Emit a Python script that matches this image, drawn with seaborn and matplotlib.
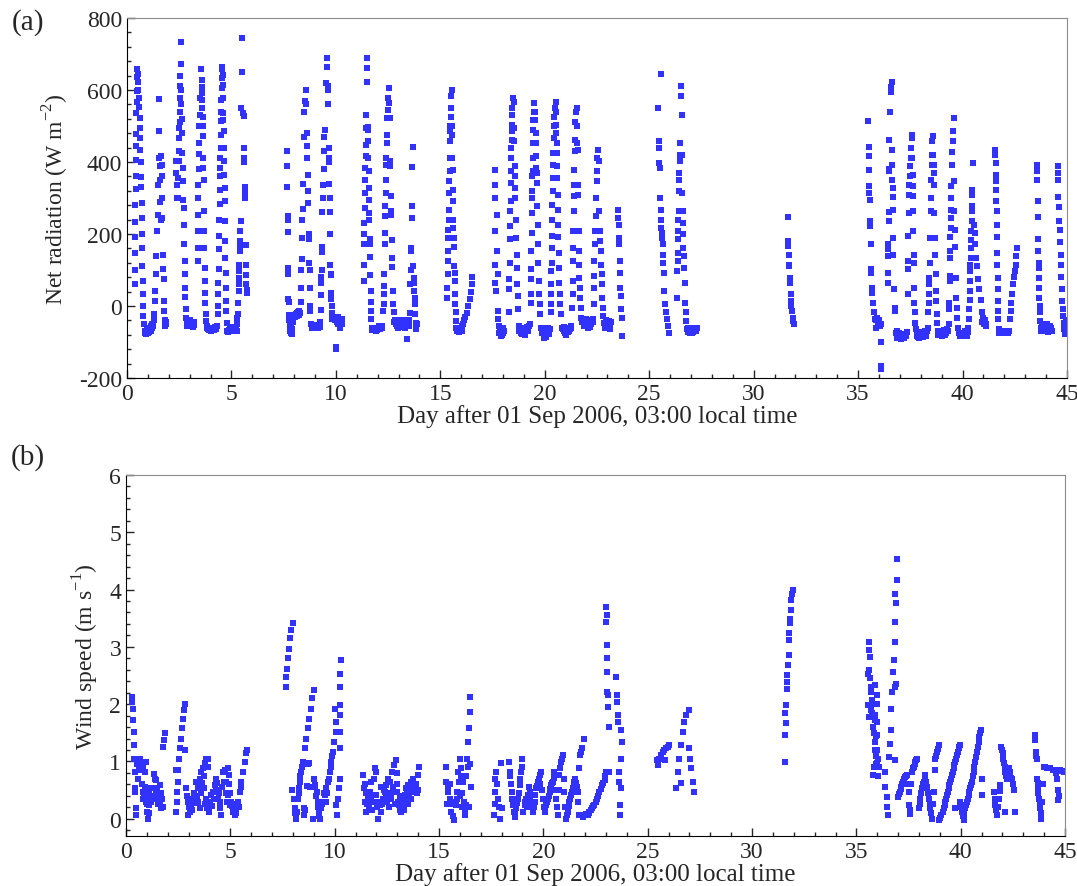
"""
Net radiation and wind speed time series, Sep-Oct 2006
"""
import matplotlib
matplotlib.use("Agg")
import matplotlib.pyplot as plt
from matplotlib.ticker import MultipleLocator
import seaborn as sns
import pandas as pd

# (day after 01 Sep 2006 03:00, net radiation W m-2)
rad_days_00_06 = [
    (0.38, 60), (0.38, 100), (0.39, 148), (0.39, 192), (0.40, 233), (0.40, 280), (0.41, 325), (0.41, 360),
    (0.42, 406), (0.43, 445), (0.43, 477), (0.44, 537), (0.46, 568), (0.46, 598), (0.48, 637), (0.50, 658),
    (0.51, 644), (0.54, 623), (0.55, 600), (0.57, 577), (0.59, 554), (0.60, 522), (0.61, 494), (0.62, 468),
    (0.64, 434), (0.65, 399), (0.67, 359), (0.68, 330), (0.70, 286), (0.71, 245), (0.72, 200), (0.73, 162),
    (0.74, 111), (0.76, 69), (0.77, 34), (0.78, 0), (0.79, -28), (0.80, -51), (0.88, -69), (0.92, -74),
    (0.97, -72), (1.02, -70), (1.07, -66), (1.12, -60), (1.17, -55), (1.22, -50), (1.27, -40), (1.30, -23),
    (1.33, 14), (1.36, 42), (1.38, 88), (1.40, 139), (1.42, 208), (1.48, 254), (1.49, 337), (1.52, 411),
    (1.53, 485), (1.54, 575), (1.56, 390), (1.58, 350), (1.60, 290), (1.62, 240), (1.65, 418), (1.66, 392),
    (1.67, 360), (1.68, 300), (1.69, 245), (1.72, 141), (1.74, 104), (1.75, 76), (1.77, 14), (1.79, -14),
    (1.82, -46), (1.85, -50),
    (2.36, 404), (2.37, 369), (2.38, 337), (2.40, 300), (2.42, 300), (2.45, 355), (2.47, 403), (2.49, 430),
    (2.50, 466), (2.51, 494), (2.52, 512), (2.53, 540), (2.54, 577), (2.55, 610), (2.56, 640), (2.57, 671),
    (2.58, 733), (2.60, 600), (2.61, 560), (2.62, 520), (2.64, 480), (2.65, 425), (2.67, 383), (2.68, 346),
    (2.70, 295), (2.72, 272), (2.73, 226), (2.74, 171), (2.76, 125), (2.77, 88), (2.79, 51), (2.80, 26),
    (2.82, -9), (2.84, -32), (2.86, -46), (2.92, -42), (2.98, -50), (3.05, -55), (3.12, -52), (3.20, -45),
    (3.38, 125), (3.38, 162), (3.39, 208), (3.40, 254), (3.41, 300), (3.42, 337), (3.43, 380), (3.44, 422),
    (3.45, 453), (3.46, 499), (3.48, 531), (3.50, 577), (3.55, 658), (3.57, 628), (3.58, 609), (3.59, 591),
    (3.60, 572), (3.61, 549), (3.62, 526), (3.63, 499), (3.64, 471), (3.65, 411), (3.66, 383), (3.68, 351),
    (3.69, 263), (3.70, 208), (3.71, 162), (3.72, 106), (3.73, 69), (3.74, 37), (3.75, 9), (3.76, -23),
    (3.78, -42), (3.85, -55), (3.92, -60), (4.00, -63), (4.08, -65), (4.15, -62), (4.22, -58), (4.30, -55),
    (4.35, -23), (4.36, 0), (4.37, 32), (4.38, 65), (4.39, 102), (4.40, 157), (4.41, 194), (4.42, 240),
    (4.43, 282), (4.44, 323), (4.45, 360), (4.46, 383), (4.47, 411), (4.48, 439), (4.49, 476), (4.50, 513),
    (4.51, 540), (4.52, 572), (4.53, 605), (4.54, 632), (4.55, 658), (4.56, 665), (4.58, 642), (4.59, 614),
    (4.60, 577), (4.61, 535), (4.62, 517), (4.63, 485), (4.64, 439), (4.65, 402), (4.66, 365), (4.67, 328),
    (4.68, 291), (4.69, 235), (4.70, 180), (4.71, 134), (4.72, 92), (4.74, 51), (4.75, 14), (4.76, -14),
    (4.78, -46), (4.80, -69), (4.88, -66), (4.96, -70), (5.04, -65), (5.12, -62), (5.20, -68),
    (5.25, -69), (5.27, -50), (5.28, -32), (5.30, -23), (5.32, 9), (5.34, 42), (5.35, 60), (5.36, 79),
    (5.37, 97), (5.38, 115), (5.40, 152), (5.41, 166), (5.42, 180), (5.43, 208), (5.44, 235), (5.47, 550),
    (5.49, 650), (5.53, 745), (5.57, 535), (5.58, 528), (5.60, 440), (5.61, 410), (5.62, 400), (5.63, 330),
    (5.64, 315), (5.66, 300), (5.68, 170), (5.69, 115), (5.71, 85), (5.72, 60), (5.74, 45), (5.75, 35),
]
rad_days_07_14 = [
    (7.67, 430), (7.67, 390), (7.68, 330), (7.69, 250), (7.70, 240), (7.70, 205), (7.71, 105), (7.72, 90),
    (7.73, 20), (7.74, 10), (7.76, -25), (7.78, -40), (7.80, -55), (7.82, -70), (7.85, -75), (7.90, -78),
    (7.95, -30), (8.00, -25), (8.05, -25), (8.10, -22), (8.15, -20), (8.20, -18), (8.25, -15),
    (8.30, -20), (8.32, 10), (8.33, 50), (8.35, 100), (8.36, 130), (8.38, 190), (8.40, 240), (8.42, 270),
    (8.44, 340), (8.46, 470), (8.48, 540), (8.50, 570), (8.55, 600), (8.58, 560), (8.60, 480), (8.62, 445),
    (8.63, 410), (8.65, 365), (8.66, 320), (8.68, 285), (8.70, 200), (8.71, 185), (8.72, 120), (8.74, 100),
    (8.76, 50), (8.77, 0), (8.78, -15), (8.82, -50), (8.88, -55), (8.95, -58), (9.02, -60), (9.10, -56),
    (9.18, -52), (9.25, -45),
    (9.27, -10), (9.29, 30), (9.30, 65), (9.31, 80), (9.32, 100), (9.33, 150), (9.34, 165), (9.36, 260),
    (9.38, 300), (9.40, 335), (9.41, 380), (9.43, 430), (9.45, 470), (9.47, 490), (9.52, 620), (9.57, 690),
    (9.58, 665), (9.60, 610), (9.62, 600), (9.63, 560), (9.65, 440), (9.66, 410), (9.67, 400), (9.68, 340),
    (9.70, 300), (9.71, 260), (9.72, 200), (9.74, 115), (9.75, 90), (9.76, 85), (9.78, 35), (9.79, 20),
    (9.80, 0), (9.81, -20), (9.83, -35), (9.88, -30), (9.95, -40), (10.00, -115), (10.01, -120), (10.05, -45),
    (10.12, -50), (10.18, -55), (10.25, -45), (10.30, -50),
    (11.33, 69), (11.34, 115), (11.35, 171), (11.36, 199), (11.37, 231), (11.38, 272), (11.39, 314),
    (11.40, 351), (11.41, 383), (11.42, 416), (11.43, 448), (11.44, 494), (11.45, 531), (11.49, 690),
    (11.50, 662), (11.50, 623), (11.53, 498), (11.54, 489), (11.55, 457), (11.56, 411), (11.57, 374),
    (11.58, 328), (11.59, 295), (11.60, 258), (11.61, 240), (11.62, 185), (11.63, 171), (11.64, 136),
    (11.65, 86), (11.66, 42), (11.67, 12), (11.68, -14), (11.70, -37), (11.72, -60), (11.78, -62),
    (11.85, -65), (11.92, -64), (12.00, -62), (12.08, -60), (12.15, -58), (12.22, -55),
    (12.28, -14), (12.29, 5), (12.30, 32), (12.31, 55), (12.32, 88), (12.34, 171), (12.35, 203),
    (12.36, 249), (12.37, 277), (12.38, 314), (12.40, 351), (12.41, 392), (12.42, 411), (12.43, 452),
    (12.44, 476), (12.46, 522), (12.48, 545), (12.50, 577), (12.54, 605), (12.56, 563), (12.57, 522),
    (12.60, 402), (12.61, 388), (12.63, 305), (12.64, 263), (12.65, 254), (12.67, 182), (12.68, 134),
    (12.70, 108), (12.72, 42), (12.74, 5), (12.76, -18), (12.80, -45), (12.88, -50), (12.95, -55),
    (13.02, -48), (13.10, -52), (13.18, -45), (13.25, -55), (13.32, -50), (13.40, -92), (13.45, -42),
    (13.52, -40), (13.55, -20), (13.57, 60), (13.58, 100), (13.60, 152), (13.62, 162), (13.64, 245),
    (13.65, 277), (13.66, 385), (13.67, 443), (13.70, 111), (13.72, 79), (13.74, 65), (13.75, 42),
    (13.77, 23), (13.78, 5), (13.80, -23), (13.82, -46), (13.85, -65), (13.88, -50),
]
rad_days_15_24 = [
    (15.33, 23), (15.34, 51), (15.35, 88), (15.36, 125), (15.37, 152), (15.38, 189), (15.39, 212),
    (15.40, 238), (15.41, 268), (15.42, 314), (15.43, 346), (15.44, 374), (15.45, 411), (15.46, 457),
    (15.47, 485), (15.48, 499), (15.49, 526), (15.50, 551), (15.52, 582), (15.54, 600), (15.56, 499),
    (15.57, 476), (15.58, 411), (15.59, 379), (15.60, 323), (15.61, 291), (15.62, 238), (15.63, 217),
    (15.64, 189), (15.65, 163), (15.67, 111), (15.68, 92), (15.69, 69), (15.70, 32), (15.71, 5),
    (15.73, -18), (15.75, -42), (15.77, -60), (15.80, -69), (15.85, -70), (15.92, -68), (16.00, -62),
    (16.05, -55), (16.12, -40), (16.20, -30), (16.27, -20), (16.33, 0), (16.40, 20), (16.45, 40),
    (16.50, 60), (16.53, 80),
    (17.62, 377), (17.62, 337), (17.63, 300), (17.63, 208), (17.64, 115), (17.64, 65), (17.65, 42),
    (17.72, 252), (17.73, 152), (17.74, 88), (17.75, -14), (17.77, -37), (17.80, -55), (17.85, -69),
    (17.92, -83), (17.98, -75), (18.05, -70),
    (18.29, -18), (18.30, 46), (18.31, 74), (18.32, 120), (18.33, 185), (18.34, 222), (18.35, 263),
    (18.36, 291), (18.37, 342), (18.38, 374), (18.39, 411), (18.40, 439), (18.41, 462), (18.42, 485),
    (18.43, 503), (18.44, 531), (18.45, 549), (18.50, 577), (18.53, 568), (18.54, 494), (18.55, 457),
    (18.56, 388), (18.57, 360), (18.58, 328), (18.59, 300), (18.61, 240), (18.63, 189), (18.65, 143),
    (18.67, 106), (18.69, 60), (18.71, 28), (18.73, -9), (18.76, -55), (18.82, -65), (18.88, -75),
    (18.95, -70), (19.02, -72), (19.10, -68), (19.18, -62), (19.25, -55),
    (19.32, 9), (19.33, 32), (19.34, 74), (19.35, 102), (19.36, 152), (19.37, 203), (19.38, 258),
    (19.39, 300), (19.40, 319), (19.41, 360), (19.42, 374), (19.43, 411), (19.44, 452), (19.45, 489),
    (19.46, 517), (19.48, 540), (19.50, 563), (19.54, 540), (19.55, 517), (19.56, 480), (19.57, 453),
    (19.58, 416), (19.60, 383), (19.61, 369), (19.62, 342), (19.64, 277), (19.66, 226), (19.68, 171),
    (19.70, 120), (19.72, 69), (19.74, 32), (19.76, 5), (19.78, -23), (19.82, -60), (19.88, -75),
    (19.95, -88), (20.02, -80), (20.10, -72), (20.18, -70), (20.25, -65),
    (20.28, -18), (20.29, 5), (20.30, 32), (20.31, 60), (20.32, 97), (20.33, 120), (20.34, 162),
    (20.35, 194), (20.36, 238), (20.37, 280), (20.38, 319), (20.39, 355), (20.40, 392), (20.41, 425),
    (20.42, 466), (20.44, 499), (20.46, 526), (20.48, 549), (20.52, 568), (20.54, 540), (20.55, 503),
    (20.56, 480), (20.57, 453), (20.58, 425), (20.59, 388), (20.60, 355), (20.62, 309), (20.63, 268),
    (20.64, 226), (20.65, 191), (20.67, 148), (20.68, 106), (20.70, 65), (20.72, 32), (20.74, 5),
    (20.76, -23), (20.82, -60), (20.90, -70), (20.98, -75), (21.05, -68), (21.12, -72), (21.20, -65),
    (21.28, -60),
    (21.32, -5), (21.33, 32), (21.34, 69), (21.35, 125), (21.36, 162), (21.37, 208), (21.38, 263),
    (21.39, 305), (21.40, 337), (21.41, 379), (21.43, 430), (21.44, 462), (21.46, 512), (21.48, 540),
    (21.52, 549), (21.55, 499), (21.56, 453), (21.57, 434), (21.58, 337), (21.60, 309), (21.62, 208),
    (21.63, 152), (21.65, 115), (21.66, 79), (21.68, 51), (21.70, 23), (21.72, -5), (21.75, -32),
    (21.80, -45), (21.88, -55), (21.95, -40), (22.02, -50), (22.10, -45), (22.18, -58), (22.25, -40),
    (22.32, -35),
    (22.35, 5), (22.36, 51), (22.37, 83), (22.38, 125), (22.40, 171), (22.42, 208), (22.44, 249),
    (22.46, 300), (22.48, 346), (22.50, 374), (22.52, 411), (22.56, 434), (22.60, 402), (22.62, 263),
    (22.64, 208), (22.66, 180), (22.68, 152), (22.70, 115), (22.72, 88), (22.74, 60), (22.76, 23),
    (22.78, -5), (22.80, -28), (22.83, -46), (22.88, -55), (22.95, -60), (23.02, -50), (23.10, -65),
    (23.18, -45),
    (23.52, 268), (23.53, 245), (23.54, 226), (23.55, 189), (23.56, 171), (23.58, 125), (23.60, 92),
    (23.62, 51), (23.64, 28), (23.66, -9), (23.68, -32), (23.72, -83),
]
rad_days_25_32 = [
    (25.43, 549), (25.45, 457), (25.47, 439), (25.48, 397), (25.50, 383), (25.52, 300), (25.57, 645),
    (25.55, 268), (25.56, 240), (25.58, 217), (25.60, 203), (25.62, 189), (25.64, 171), (25.66, 143),
    (25.68, 120), (25.70, 92), (25.73, 42), (25.76, 5), (25.80, -18), (25.84, -37), (25.88, -55),
    (25.93, -74),
    (26.34, 23), (26.35, 97), (26.36, 125), (26.37, 148), (26.38, 185), (26.39, 208), (26.40, 240),
    (26.41, 263), (26.43, 319), (26.44, 351), (26.45, 369), (26.46, 402), (26.47, 420), (26.48, 452),
    (26.50, 582), (26.54, 612), (26.56, 531), (26.57, 420), (26.58, 314), (26.60, 263), (26.61, 231),
    (26.62, 199), (26.64, 162), (26.65, 139), (26.67, 106), (26.69, 65), (26.72, 9), (26.74, -18),
    (26.76, -42), (26.80, -65), (26.88, -72), (26.95, -75), (27.02, -68), (27.10, -72), (27.18, -65),
    (27.25, -70),
    (31.63, 247), (31.65, 180), (31.66, 166), (31.68, 143), (31.70, 115), (31.71, 111), (31.73, 79),
    (31.75, 65), (31.77, 32), (31.79, 14), (31.81, 0), (31.83, -14), (31.86, -32), (31.90, -42),
    (31.94, -49),
]
rad_days_35_45 = [
    (35.48, 514), (35.50, 443), (35.51, 416), (35.52, 377), (35.53, 332), (35.54, 314), (35.55, 295),
    (35.57, 235), (35.58, 222), (35.60, 171), (35.62, 102), (35.63, 92), (35.66, 51), (35.68, 37),
    (35.72, 9), (35.76, -18), (35.80, -37), (35.86, -60), (35.92, -32), (35.98, -46), (36.04, -55),
    (36.12, -99), (36.12, -166), (36.12, -175),
    (36.41, 65), (36.42, 92), (36.43, 139), (36.44, 157), (36.45, 171), (36.46, 235), (36.47, 261),
    (36.48, 374), (36.49, 381), (36.50, 462), (36.55, 540), (36.58, 594), (36.59, 609), (36.61, 623),
    (36.62, 432), (36.63, 392), (36.64, 351), (36.65, 328), (36.66, 302), (36.67, 268), (36.68, 189),
    (36.69, 143), (36.72, 46), (36.75, -5), (36.78, -14), (36.84, -70), (36.92, -83), (37.00, -88),
    (37.08, -85), (37.16, -80), (37.25, -78), (37.32, -72),
    (37.37, 32), (37.38, 102), (37.39, 125), (37.40, 194), (37.42, 259), (37.44, 309), (37.46, 337),
    (37.48, 360), (37.50, 388), (37.52, 411), (37.54, 439), (37.56, 466), (37.58, 476), (37.60, 411),
    (37.61, 365), (37.62, 332), (37.63, 305), (37.64, 263), (37.65, 208), (37.66, 143), (37.67, 120),
    (37.69, 51), (37.70, 9), (37.72, -18), (37.74, -46), (37.76, -65), (37.80, -83), (37.88, -85),
    (37.96, -82), (38.05, -78), (38.14, -75), (38.22, -80), (38.30, -70),
    (38.37, -18), (38.38, 9), (38.39, 32), (38.40, 60), (38.41, 79), (38.43, 120), (38.45, 189),
    (38.47, 263), (38.49, 300), (38.51, 351), (38.53, 392), (38.55, 420), (38.56, 457), (38.58, 471),
    (38.60, 420), (38.61, 392), (38.62, 369), (38.63, 337), (38.65, 259), (38.67, 189), (38.69, 143),
    (38.71, 88), (38.73, 42), (38.75, 14), (38.77, -23), (38.79, -46), (38.81, -69), (38.88, -75),
    (38.96, -78), (39.05, -72), (39.14, -80), (39.22, -75), (39.30, -70),
    (39.36, -9), (39.37, 9), (39.38, 69), (39.39, 83), (39.40, 134), (39.41, 152), (39.42, 191),
    (39.43, 217), (39.44, 245), (39.45, 268), (39.46, 300), (39.47, 332), (39.49, 392), (39.51, 429),
    (39.53, 457), (39.55, 485), (39.57, 522), (39.60, 346), (39.61, 263), (39.62, 212), (39.64, 163),
    (39.67, 78), (39.70, 23), (39.72, -5), (39.75, -32), (39.78, -60), (39.82, -74), (39.90, -78),
    (39.98, -80), (40.06, -76), (40.15, -78), (40.24, -72),
    (40.32, -37), (40.33, -9), (40.34, 18), (40.35, 42), (40.36, 69), (40.37, 97), (40.38, 115),
    (40.39, 134), (40.40, 162), (40.41, 182), (40.42, 208), (40.43, 235), (40.44, 263), (40.45, 277),
    (40.46, 307), (40.47, 323), (40.48, 397), (40.56, 226), (40.58, 203), (40.62, 171), (40.66, 134),
    (40.70, 111), (40.75, 74), (40.80, 46), (40.86, 18), (40.92, -18), (40.98, -32), (41.05, -46),
    (41.10, -50),
    (41.56, 434), (41.57, 420), (41.58, 397), (41.59, 365), (41.60, 346), (41.61, 323), (41.62, 293),
    (41.63, 263), (41.64, 224), (41.65, 191), (41.66, 148), (41.67, 115), (41.68, 79), (41.69, 46),
    (41.70, 14), (41.71, -14), (41.72, -37), (41.74, -65), (41.76, -74), (41.85, -72), (41.95, -70),
    (42.05, -72), (42.15, -70), (42.22, -70),
    (42.27, -37), (42.30, -14), (42.34, 9), (42.38, 32), (42.42, 60), (42.46, 80), (42.50, 97),
    (42.54, 115), (42.58, 139), (42.63, 162),
    (43.56, 392), (43.57, 374), (43.58, 351), (43.59, 293), (43.60, 247), (43.62, 187), (43.63, 154),
    (43.64, 120), (43.65, 106), (43.66, 79), (43.67, 51), (43.68, 23), (43.70, 0), (43.71, -18),
    (43.72, -42), (43.74, -60), (43.76, -69), (43.85, -55), (43.95, -65), (44.05, -50), (44.15, -70),
    (44.25, -62),
    (44.55, 390), (44.56, 369), (44.57, 351), (44.59, 303), (44.61, 274), (44.63, 235), (44.65, 212),
    (44.67, 177), (44.69, 143), (44.71, 115), (44.73, 80), (44.75, 46), (44.77, 14), (44.79, -9),
    (44.81, -28), (44.84, -46), (44.87, -65), (44.90, -78), (44.93, -55), (44.96, -70),
]
# more night-time readings from the dense bands near -50..-90
rad_nights = [
    (0.84, -75), (0.90, -78), (0.95, -65), (1.00, -75), (1.05, -72), (1.10, -65), (1.15, -70), (1.20, -60),
    (1.25, -55), (1.80, -40), (1.84, -55), (1.88, -45),
    (2.88, -55), (2.95, -45), (3.02, -40), (3.08, -48), (3.15, -58), (3.22, -52),
    (3.82, -60), (3.88, -65), (3.95, -68), (4.03, -70), (4.10, -60), (4.18, -68), (4.26, -65),
    (4.84, -72), (4.92, -62), (5.00, -68), (5.08, -58), (5.16, -65), (5.22, -60),
    (7.83, -60), (7.88, -65), (7.93, -45), (8.03, -30), (8.12, -28), (8.22, -25),
    (8.85, -62), (8.92, -52), (9.00, -55), (9.06, -62), (9.14, -60), (9.22, -58),
    (9.90, -35), (10.03, -40), (10.08, -30), (10.15, -42), (10.22, -60), (10.28, -35),
    (11.75, -68), (11.82, -60), (11.90, -70), (11.97, -66), (12.05, -55), (12.12, -64), (12.20, -62),
    (12.85, -40), (12.92, -45), (12.98, -62), (13.06, -38), (13.14, -58), (13.22, -40), (13.30, -62),
    (13.36, -45), (13.48, -55),
    (15.83, -60), (15.88, -72), (15.95, -65), (16.02, -70), (16.08, -50),
    (17.82, -75), (17.88, -62), (17.95, -80), (18.00, -60),
    (18.78, -70), (18.85, -60), (18.92, -78), (18.99, -62), (19.06, -80), (19.14, -58), (19.21, -70),
    (19.28, -50),
    (19.85, -65), (19.92, -72), (19.99, -60), (20.06, -85), (20.14, -62), (20.21, -78),
    (20.85, -65), (20.94, -58), (21.02, -80), (21.09, -60), (21.16, -70), (21.24, -55),
    (21.84, -40), (21.92, -50), (21.99, -35), (22.06, -60), (22.14, -38), (22.22, -50), (22.29, -45),
    (22.86, -62), (22.92, -40), (22.99, -58), (23.06, -42), (23.14, -55),
    (26.84, -60), (26.92, -68), (26.99, -62), (27.06, -75), (27.14, -60), (27.22, -68), (27.28, -62),
    (35.88, -40), (35.95, -55), (36.02, -38), (36.08, -50),
    (36.82, -75), (36.88, -90), (36.96, -75), (37.04, -92), (37.12, -78), (37.20, -90), (37.28, -82),
    (37.84, -78), (37.92, -88), (38.00, -72), (38.09, -85), (38.18, -70), (38.26, -84), (38.34, -62),
    (38.84, -80), (38.92, -70), (39.00, -82), (39.09, -68), (39.18, -78), (39.26, -65), (39.33, -50),
    (39.86, -82), (39.94, -74), (40.02, -84), (40.10, -70), (40.19, -82), (40.28, -60),
    (40.95, -45), (41.02, -50), (41.08, -40), (41.12, -55),
    (41.80, -76), (41.90, -72), (42.00, -75), (42.10, -72), (42.20, -74),
    (43.80, -50), (43.90, -70), (44.00, -60), (44.10, -72), (44.20, -55), (44.28, -70),
    (44.88, -50), (44.92, -75), (44.95, -40), (44.98, -60),
]

# (day, wind speed m s-1)
wind_days_00_06 = [
    (0.30, 2.13), (0.31, 2.04), (0.32, 1.92), (0.34, 1.72), (0.36, 1.52), (0.38, 1.28), (0.40, 1.05),
    (0.42, 0.82), (0.44, 0.53), (0.45, 0.47), (0.47, 0.18), (0.49, 0.06),
    (0.58, 0.70), (0.65, 1.05), (0.73, 0.97), (0.81, 0.88), (0.89, 0.82), (0.94, 0.99), (0.81, 0.47),
    (0.81, 0.35), (0.97, 0.30), (1.02, 0.12), (1.05, 0.00), (1.10, 0.24), (1.14, 0.35), (1.18, 0.53),
    (1.34, 0.79), (1.42, 0.67), (1.50, 0.53), (1.58, 0.41), (1.65, 0.30), (1.73, 0.35), (1.77, 0.21),
    (1.62, 0.59), (1.45, 0.47), (1.75, 1.26), (1.81, 1.37), (1.87, 1.49),
    (2.41, 0.12), (2.43, 0.30), (2.45, 0.47), (2.48, 0.65), (2.41, 0.85), (2.50, 0.85), (2.55, 1.05),
    (2.60, 1.23), (2.63, 1.40), (2.67, 1.58), (2.72, 1.75), (2.78, 1.90), (2.83, 2.01), (2.83, 1.20),
    (2.89, 0.53), (2.97, 0.30), (3.05, 0.12), (3.13, 0.24), (2.97, 0.06), (3.21, 0.35),
    (3.37, 0.65), (3.45, 0.53), (3.53, 0.70), (3.61, 0.82), (3.69, 0.88), (3.77, 0.97), (3.85, 1.05),
    (3.93, 1.05), (3.72, 0.53), (3.82, 0.35), (3.88, 0.18), (3.98, 0.12), (3.45, 0.30), (3.53, 0.18),
    (4.09, 0.41), (4.17, 0.47), (4.25, 0.59), (4.33, 0.70), (4.41, 0.35), (4.49, 0.18), (4.57, 0.06),
    (4.65, 0.82), (4.73, 0.85), (4.81, 0.65), (4.89, 0.41), (4.97, 0.24), (4.89, 0.88), (4.94, 0.76),
    (5.05, 0.30), (5.13, 0.12), (5.21, 0.06), (5.29, 0.18), (5.37, 0.30), (5.45, 0.47), (5.53, 0.65),
    (5.61, 0.82), (5.69, 0.99), (5.77, 1.14), (5.82, 1.20),
]
wind_days_07_14 = [
    (7.65, 2.30), (7.68, 2.48), (7.72, 2.62), (7.77, 2.80), (7.82, 2.97), (7.87, 3.15), (7.92, 3.29),
    (8.00, 3.41),
    (7.97, 0.50), (8.04, 0.35), (8.08, 0.18), (8.13, 0.00), (8.20, 0.12), (8.24, 0.35), (8.29, 0.53),
    (8.32, 0.65), (8.40, 0.82), (8.48, 0.99),
    (8.51, 0.18), (8.53, 0.06), (8.56, 1.23), (8.62, 1.40), (8.70, 1.58), (8.78, 1.75), (8.85, 1.92),
    (8.92, 2.10), (8.99, 2.24), (8.75, 0.97), (8.80, 0.56),
    (9.00, 0.70), (9.07, 0.59), (9.13, 0.47), (9.20, 0.30), (9.26, 0.12), (9.30, 0.00), (8.97, 0.00),
    (9.36, 0.18), (9.44, 0.30), (9.52, 0.41), (9.60, 0.53), (9.68, 0.65), (9.76, 0.82), (9.84, 0.99),
    (9.92, 1.17), (9.97, 1.34), (10.05, 1.52), (10.08, 1.69), (10.00, 1.92), (10.08, 0.24), (10.11, 0.06),
    (10.16, 0.35), (10.21, 0.53), (10.24, 0.70), (10.24, 1.23), (10.24, 1.52), (10.27, 1.81),
    (10.27, 1.98), (10.27, 2.30), (10.27, 2.53), (10.32, 2.77),
    (11.36, 0.76), (11.40, 0.53), (11.44, 0.30), (11.49, 0.12), (11.55, 0.25), (11.60, 0.35),
    (11.65, 0.20), (11.68, 0.47), (11.76, 0.65), (11.80, 0.15), (11.87, 0.70), (11.92, 0.88),
    (11.97, 0.82), (12.00, 0.41), (12.08, 0.00), (12.10, 0.30), (12.16, 0.24), (12.20, 0.55),
    (12.24, 0.12), (12.32, 0.35), (12.40, 0.47), (12.48, 0.59), (12.56, 0.70), (12.60, 0.20),
    (12.64, 0.65), (12.72, 0.35), (12.77, 0.82), (12.83, 0.94), (12.90, 0.25), (12.93, 1.02),
    (13.00, 0.80), (13.01, 0.47), (13.09, 0.24), (13.15, 0.40),
    (13.20, 0.12), (13.28, 0.30), (13.30, 0.15), (13.36, 0.41), (13.44, 0.53), (13.50, 0.25),
    (13.52, 0.59), (13.60, 0.47), (13.65, 0.35), (13.68, 0.65), (13.76, 0.70), (13.80, 0.55),
    (13.84, 0.47), (13.92, 0.59), (13.95, 0.45), (14.00, 0.76), (14.03, 0.90),
]
wind_days_15_24 = [
    (15.32, 0.90), (15.35, 0.65), (15.40, 0.25), (15.43, 0.47), (15.51, 0.35), (15.55, 0.60),
    (15.59, 0.12), (15.70, -0.02), (15.75, 0.30), (15.80, 0.24), (15.86, 0.47), (15.91, 0.82),
    (15.99, 1.05), (16.00, 0.40), (16.07, 0.88), (16.10, 0.20), (16.15, 0.65), (16.23, 0.06),
    (16.28, 0.24), (16.30, 0.75), (16.34, 1.05), (16.39, 1.34), (16.44, 1.58), (16.50, 1.87),
    (16.50, 2.13), (16.55, 0.56), (16.44, 0.21),
    (17.62, 0.06), (17.66, 0.47), (17.70, 0.70), (17.74, 0.82), (17.82, 0.35), (17.90, 0.00),
    (17.98, 0.97), (18.03, 0.18),
    (18.35, 0.99), (18.41, 0.82), (18.48, 0.47), (18.54, 0.24), (18.62, 0.03), (18.70, 0.18),
    (18.78, 0.35), (18.86, 0.59), (18.94, 0.82), (18.99, 1.05), (19.02, 0.12),
    (19.10, 0.24), (19.18, 0.35), (19.26, 0.41), (19.34, 0.47), (19.42, 0.30), (19.50, 0.12),
    (19.58, 0.30), (19.66, 0.53), (19.74, 0.65), (19.82, 0.76), (19.90, 0.82), (19.98, 0.35),
    (20.06, 0.12), (20.14, 0.24), (20.22, 0.35), (20.30, 0.47), (20.37, 0.59), (20.45, 0.65),
    (20.53, 0.82), (20.61, 0.35), (20.69, 0.06), (20.77, 0.76), (20.85, 0.99), (20.93, 1.11),
    (21.01, 0.47), (21.09, 0.00),
    (21.17, 0.12), (21.25, 0.30), (21.33, 0.41), (21.41, 0.53), (21.49, 0.65), (21.57, 0.62),
    (21.65, 0.47), (21.70, 0.88), (21.76, 1.11), (21.84, 1.23), (21.94, 1.40), (21.73, 0.06),
    (21.89, 0.03),
    (22.13, 0.06), (22.21, 0.12), (22.34, 0.18), (22.45, 0.24), (22.56, 0.35), (22.69, 0.47),
    (22.81, 0.59), (22.93, 0.67), (23.01, 0.82),
    (23.01, 3.70), (23.04, 3.55), (23.01, 3.44), (23.07, 3.03), (23.05, 2.80), (23.04, 2.56),
    (23.04, 2.22), (23.10, 2.16), (23.11, 1.95), (23.13, 1.60), (23.13, 0.82), (23.48, 2.48),
    (23.53, 2.16), (23.53, 2.04), (23.56, 1.81), (23.56, 1.69), (23.72, 1.55), (23.76, 1.34),
    (23.72, 1.05), (23.61, 0.82), (23.64, 0.65), (23.72, 0.53), (23.68, 0.24), (23.66, 0.06),
]
wind_days_25_32 = [
    (25.43, 1.02), (25.48, 0.94), (25.56, 1.05), (25.64, 1.11), (25.72, 1.17), (25.80, 1.20),
    (25.88, 1.23), (25.96, 1.26), (26.04, 1.28), (25.85, 1.02),
    (26.36, 0.53), (26.44, 0.82), (26.52, 1.05), (26.60, 1.28), (26.67, 1.52), (26.75, 1.69),
    (26.83, 1.81), (26.96, 1.90), (26.96, 1.23), (27.03, 1.05), (27.09, 0.88), (27.15, 0.65),
    (27.20, 0.47), (26.60, 0.62),
    (31.57, 0.99), (31.60, 1.46), (31.63, 1.68), (31.60, 1.84), (31.63, 1.98), (31.68, 2.27),
    (31.68, 2.39), (31.69, 2.51), (31.73, 2.68), (31.76, 2.85), (31.79, 3.12), (31.79, 3.24),
    (31.82, 3.41), (31.84, 3.49), (31.85, 3.64), (31.88, 3.81), (31.92, 3.93), (31.95, 3.99),
]
wind_days_35_45 = [
    (35.59, 3.09), (35.62, 2.94), (35.65, 2.83), (35.56, 2.53), (35.67, 2.45), (35.72, 2.22),
    (35.75, 2.07), (35.56, 1.98), (35.62, 1.78), (35.70, 1.90), (35.80, 2.00), (35.85, 1.50),
    (35.91, 2.33), (35.99, 2.16), (35.99, 2.01), (35.91, 1.81), (35.88, 1.72), (35.99, 1.69),
    (35.99, 1.46), (35.91, 1.34), (35.99, 1.20), (35.95, 1.10), (36.04, 1.05), (35.92, 0.95),
    (36.07, 0.91), (35.83, 0.91), (35.78, 0.76),
    (36.39, 0.82), (36.39, 0.56), (36.47, 0.38), (36.47, 0.21), (36.52, 0.06), (36.58, 1.08),
    (36.63, 1.31), (36.68, 1.55), (36.68, 1.92), (36.71, 2.22), (36.76, 2.56), (36.79, 2.77),
    (36.84, 3.09), (36.84, 3.44), (36.90, 3.76), (36.84, 3.93), (36.95, 4.16), (36.95, 4.54),
    (36.87, 2.30), (36.90, 2.36), (36.87, 1.02),
    (37.00, 0.38), (37.08, 0.47), (37.16, 0.56), (37.24, 0.65), (37.32, 0.73), (37.43, 0.76),
    (37.51, 0.47), (37.54, 0.24), (37.59, 0.09), (37.67, 0.82), (37.75, 0.91), (37.83, 0.99),
    (37.91, 1.05),
    (38.02, 0.18), (38.07, 0.35), (38.15, 0.53), (38.23, 0.65), (38.31, 0.76), (38.39, 0.56),
    (38.47, 0.35), (38.55, 0.18), (38.63, 0.00), (38.71, 0.47), (38.75, 0.85), (38.79, 1.05),
    (38.87, 1.17), (38.95, 1.28),
    (38.98, -0.02), (39.07, 0.06), (39.19, 0.18), (39.27, 0.30), (39.35, 0.41), (39.42, 0.53),
    (39.50, 0.65), (39.58, 0.76), (39.66, 0.88), (39.74, 0.99), (39.82, 1.11), (39.90, 1.23),
    (39.98, 1.28), (39.74, 0.18),
    (39.98, 0.30), (40.06, 0.12), (40.14, -0.02), (40.22, 0.18), (40.30, 0.30), (40.38, 0.41),
    (40.46, 0.53), (40.54, 0.65), (40.62, 0.82), (40.70, 0.99), (40.78, 1.17), (40.86, 1.34),
    (40.94, 1.49), (40.99, 1.55), (41.02, 0.70), (41.02, 0.41),
    (41.58, 0.47), (41.66, 0.24), (41.74, 0.06), (41.82, 0.35), (41.90, 0.59), (41.95, 1.26),
    (42.01, 1.14), (42.06, 0.97), (42.14, 0.82), (42.22, 0.70), (42.30, 0.88), (42.38, 0.76),
    (42.46, 0.70), (42.54, 0.50), (42.59, 0.12), (42.14, 0.12),
    (43.55, 1.46), (43.58, 1.37), (43.61, 1.17), (43.66, 1.05), (43.66, 0.70), (43.71, 0.53),
    (43.74, 0.35), (43.82, 0.18), (43.87, 0.00), (43.90, 0.30), (43.98, 0.91), (44.14, 0.88),
    (44.30, 0.88), (44.54, 0.85), (44.62, 0.70), (44.66, 0.50), (44.66, 0.33), (44.78, 0.85),
    (44.94, 0.82),
]
# extra readings inside the dense low-wind clusters
wind_clusters = [
    (0.55, 0.95), (0.62, 0.85), (0.70, 0.90), (0.78, 0.60), (0.86, 0.40), (0.92, 0.55), (1.00, 0.25),
    (1.08, 0.10), (1.12, 0.45), (1.20, 0.30), (1.28, 0.40), (1.38, 0.70), (1.48, 0.35), (1.55, 0.25),
    (1.68, 0.45), (1.70, 0.18),
    (2.92, 0.40), (3.00, 0.20), (3.08, 0.35), (3.18, 0.15), (3.25, 0.45), (3.30, 0.28), (3.40, 0.40),
    (3.50, 0.60), (3.58, 0.45), (3.65, 0.62), (3.75, 0.75), (3.80, 0.25), (3.95, 0.90), (4.02, 0.30),
    (4.12, 0.22), (4.20, 0.35), (4.30, 0.50), (4.38, 0.62), (4.45, 0.45), (4.52, 0.30), (4.60, 0.55),
    (4.70, 0.65), (4.78, 0.45), (4.85, 0.30), (4.92, 0.60), (5.00, 0.45), (5.10, 0.22), (5.18, 0.15),
    (5.25, 0.10), (5.33, 0.25), (5.40, 0.20), (5.50, 0.55),
    (8.10, 0.10), (8.17, 0.05), (8.27, 0.45), (8.36, 0.75), (8.44, 0.90), (8.58, 0.15), (8.66, 0.58),
    (8.72, 0.95), (9.04, 0.55), (9.10, 0.40), (9.18, 0.20), (9.24, 0.05), (9.40, 0.25), (9.48, 0.45),
    (9.56, 0.30), (9.64, 0.45), (9.72, 0.70), (9.80, 0.90), (9.88, 1.10),
    (11.45, 0.60), (11.52, 0.45), (11.58, 0.30), (11.72, 0.40), (11.84, 0.30), (12.05, 0.20),
    (12.28, 0.25), (12.36, 0.50), (12.44, 0.40), (12.52, 0.30), (12.68, 0.45), (12.80, 0.55),
    (12.97, 0.60), (13.05, 0.30), (13.12, 0.15), (13.25, 0.20), (13.40, 0.35), (13.48, 0.45),
    (13.56, 0.40), (13.72, 0.50), (13.88, 0.60), (13.98, 0.50),
    (15.45, 0.55), (15.62, 0.25), (15.66, 0.05), (15.84, 0.35), (15.95, 0.65), (16.04, 0.75),
    (16.12, 0.45), (16.18, 0.30), (16.26, 0.15), (16.40, 0.90), (16.47, 0.95),
    (17.68, 0.25), (17.78, 0.60), (17.86, 0.20), (18.38, 0.75), (18.45, 0.60), (18.52, 0.35),
    (18.58, 0.12), (18.66, 0.10), (18.74, 0.28), (18.82, 0.45), (18.90, 0.70), (18.96, 0.90),
    (19.14, 0.30), (19.22, 0.20), (19.30, 0.55), (19.38, 0.40), (19.46, 0.20), (19.54, 0.20),
    (19.62, 0.42), (19.70, 0.58), (19.78, 0.70), (19.86, 0.60), (19.94, 0.50), (20.02, 0.20),
    (20.10, 0.18), (20.18, 0.30), (20.26, 0.40), (20.34, 0.52), (20.41, 0.62), (20.49, 0.72),
    (20.57, 0.50), (20.65, 0.20), (20.73, 0.50), (20.81, 0.88), (20.89, 1.05), (20.97, 0.70),
    (21.05, 0.20), (21.13, 0.06), (21.21, 0.22), (21.29, 0.35), (21.37, 0.47), (21.45, 0.59),
    (21.53, 0.70), (21.61, 0.55), (21.68, 0.30), (21.80, 1.17), (21.97, 0.06), (22.05, 0.08),
    (22.17, 0.10), (22.28, 0.15), (22.40, 0.22), (22.50, 0.30), (22.62, 0.40), (22.75, 0.52),
    (22.87, 0.62), (22.97, 0.75),
    (35.60, 2.60), (35.68, 2.30), (35.74, 1.85), (35.82, 1.60), (35.87, 1.20), (35.94, 1.45),
    (36.00, 0.98), (36.05, 0.75),
    (37.04, 0.43), (37.12, 0.52), (37.20, 0.60), (37.28, 0.70), (37.36, 0.75), (37.47, 0.60),
    (37.56, 0.15), (37.63, 0.60), (37.71, 0.88), (37.79, 0.95), (37.87, 1.02), (38.04, 0.25),
    (38.11, 0.45), (38.19, 0.60), (38.27, 0.70), (38.35, 0.65), (38.43, 0.45), (38.51, 0.25),
    (38.59, 0.10), (38.67, 0.25), (38.83, 1.10), (38.91, 1.22), (39.03, 0.02), (39.13, 0.12),
    (39.23, 0.24), (39.31, 0.35), (39.39, 0.47), (39.46, 0.59), (39.54, 0.70), (39.62, 0.82),
    (39.70, 0.94), (39.78, 1.05), (39.86, 1.17), (39.94, 1.25), (40.02, 0.20), (40.10, 0.05),
    (40.18, 0.08), (40.26, 0.24), (40.34, 0.35), (40.42, 0.47), (40.50, 0.59), (40.58, 0.74),
    (40.66, 0.90), (40.74, 1.08), (40.82, 1.25), (40.90, 1.42), (41.62, 0.35), (41.70, 0.15),
    (41.78, 0.20), (41.86, 0.48), (41.98, 1.20), (42.04, 1.05), (42.10, 0.90), (42.18, 0.75),
    (42.26, 0.80), (42.34, 0.82), (42.42, 0.72), (42.50, 0.60), (43.63, 1.10), (43.69, 0.62),
    (43.72, 0.45), (43.78, 0.25), (43.84, 0.10), (43.94, 0.60), (44.05, 0.90), (44.22, 0.88),
    (44.40, 0.86), (44.58, 0.80), (44.70, 0.40), (44.86, 0.84),
]

x_label = "Day after 01 Sep 2006, 03:00 local time"

rad = pd.DataFrame(rad_days_00_06 + rad_days_07_14 + rad_days_15_24 + rad_days_25_32
                   + rad_days_35_45 + rad_nights, columns=["day", "value"])
wind = pd.DataFrame(wind_days_00_06 + wind_days_07_14 + wind_days_15_24 + wind_days_25_32
                    + wind_days_35_45 + wind_clusters, columns=["day", "value"])

sns.set_style("ticks")
plt.rcParams['font.family'] = ['Liberation Serif', 'DejaVu Serif']
plt.rcParams['mathtext.fontset'] = 'custom'
plt.rcParams['mathtext.rm'] = 'Liberation Serif'
plt.rcParams['axes.unicode_minus'] = False

fig = plt.figure(figsize=(10.77, 8.87), dpi=100)
ax_a = fig.add_axes([0.1179, 0.5727, 0.8728, 0.4059])
ax_b = fig.add_axes([0.1170, 0.0564, 0.8719, 0.4070])

blue = '#3232ff'
panels = [
    (ax_a, rad, (-200, 800), 200, 40, r"Net radiation (W m$^{\mathregular{-2}}$)"),
    (ax_b, wind, (-0.3, 6), 1, 0.2, r"Wind speed (m s$^{\mathregular{-1}}$)"),
]
for ax, df, ylim, major, minor, ylabel in panels:
    sns.scatterplot(data=df, x="day", y="value", ax=ax, marker='s', s=17,
                    color=blue, linewidth=0, legend=False)
    ax.set_xlim(0, 45)
    ax.set_ylim(*ylim)
    ax.xaxis.set_major_locator(MultipleLocator(5))
    ax.xaxis.set_minor_locator(MultipleLocator(1))
    ax.yaxis.set_major_locator(MultipleLocator(major))
    ax.yaxis.set_minor_locator(MultipleLocator(minor))
    ax.tick_params(which='major', direction='in', length=5.5, labelsize=17, width=1)
    ax.tick_params(which='minor', direction='in', length=3, width=1)
    ax.set_xlabel(x_label, fontsize=18, labelpad=0)
    ax.set_ylabel(ylabel, fontsize=17, labelpad=6)
    for side in ['top', 'right']:
        ax.spines[side].set_color('#8c8c8c')
    for side in ['left', 'bottom']:
        ax.spines[side].set_color('black')

fig.text(0.026, 0.975, "(a)", fontsize=21, ha='center', va='center')
fig.text(0.026, 0.484, "(b)", fontsize=21, ha='center', va='center')

fig.savefig("out.png", dpi=100)
